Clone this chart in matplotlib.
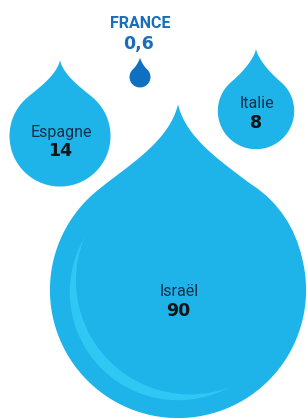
import numpy as np
import matplotlib
matplotlib.use("Agg")
import matplotlib.pyplot as plt
from matplotlib.patches import Polygon, Circle

# data
countries = ["France", "Espagne", "Italie", "Israël"]
values = [0.6, 14, 8, 90]
value_labels = ["0,6", "14", "8", "90"]

# layout (pixel coords, y down)
centers_x = [140, 60, 256, 178]
centers_y = [77, 136, 111, 290]
tip_factor = [1.85, 1.5, 1.62, 1.45]
name_base = [28, 137, 108, 296]
num_base = [49, 156, 128, 316]
scale = 13.5  # radius = scale * sqrt(value) -> area ~ value

light = "#1eb4ea"
light_hi = "#2fc7f4"
dark = "#0f6fc0"


def drop_shape(cx, cy, r, h):
    # circle arc from 50deg clockwise round the bottom to 130deg, plus curved tip
    phi = np.radians(50)
    ang = np.linspace(phi, phi - np.radians(360) + 2 * (np.pi / 2 - phi), 200)
    arc = np.c_[np.cos(ang), np.sin(ang)]
    t = np.linspace(0, 1, 60)[:, None]
    p0 = np.array([np.cos(phi), np.sin(phi)])
    p1 = p0 + 0.3 * np.array([-np.sin(phi), np.cos(phi)])
    p2 = np.array([0.07, h - 0.3])
    p3 = np.array([0.0, h])
    right = (1 - t) ** 3 * p0 + 3 * (1 - t) ** 2 * t * p1 + 3 * (1 - t) * t ** 2 * p2 + t ** 3 * p3
    left = right[::-1] * np.array([-1, 1])
    # arc ends at left side; go up the left to the tip, then down the right
    pts = np.vstack([arc, left[::-1], right[::-1]])
    # y up in unit space -> y down in pixels
    return np.c_[cx + r * pts[:, 0], cy - r * pts[:, 1]]


fig = plt.figure(figsize=(3.08, 4.19), dpi=100)
ax = fig.add_axes([0, 0, 1, 1])
ax.set_xlim(0, 308)
ax.set_ylim(419, 0)
ax.axis("off")

for i, c in enumerate(countries):
    r = scale * np.sqrt(values[i])
    col = dark if c == "France" else light
    ax.add_patch(Polygon(drop_shape(centers_x[i], centers_y[i], r, tip_factor[i]),
                         closed=True, fc=col, ec="none", zorder=2))
    if c == "Israël":
        # lighter crescent on the lower left
        cx, cy = centers_x[i], centers_y[i] + 2
        outer = Circle((cx, cy), 0.845 * r, fc=light_hi, ec="none", zorder=3)
        d = 0.13 * r
        a = np.radians(44)
        inner = Circle((cx + d * np.cos(a), cy - d * np.sin(a)), 0.89 * r,
                       fc=light, ec="none", zorder=4)
        ax.add_patch(outer)
        ax.add_patch(inner)

name_font = ["Roboto", "DejaVu Sans"]
num_font = ["DejaVu Sans"]

for i, c in enumerate(countries):
    x = centers_x[i]
    if c == "France":
        ax.text(x, name_base[i], "FRANCE", ha="center", va="baseline", fontsize=11.5,
                fontweight="bold", color="#1a6db8", family=name_font, zorder=5)
        ax.text(x - 2, num_base[i], value_labels[i], ha="center", va="baseline", fontsize=12.5,
                fontweight="bold", color="#1a6db8", family=num_font, zorder=5)
    else:
        ax.text(x + 1, name_base[i], c, ha="center", va="baseline", fontsize=11.5,
                fontweight="normal", color="#15304a", family=name_font, zorder=5)
        ax.text(x, num_base[i], value_labels[i], ha="center", va="baseline", fontsize=12.5,
                fontweight="bold", color="#111418", family=num_font, zorder=5)

fig.savefig("out.png", dpi=100)
